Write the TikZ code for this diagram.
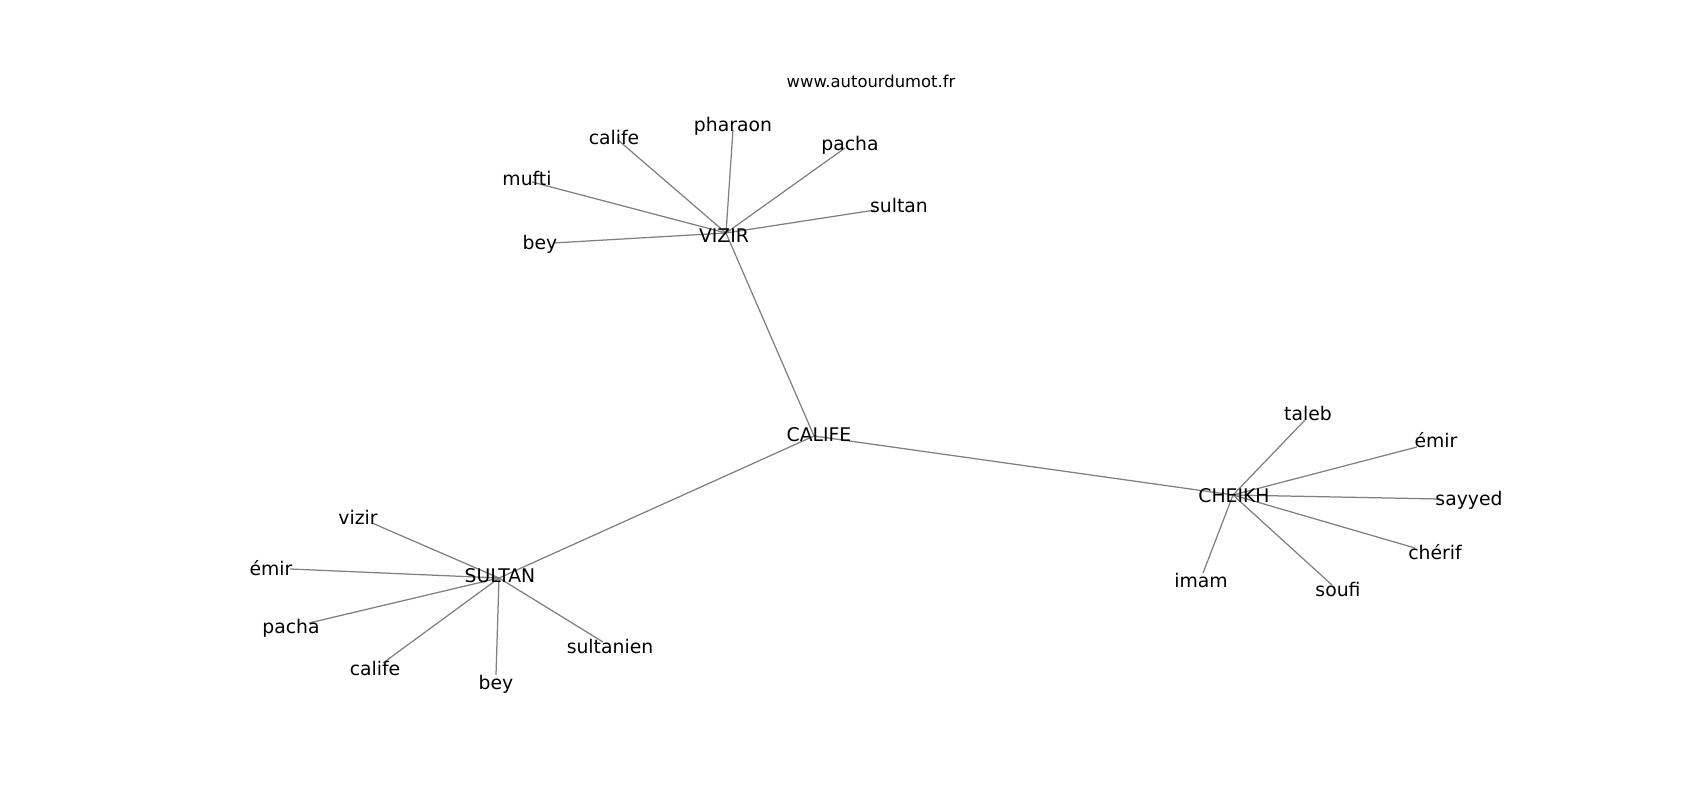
\documentclass[tikz,border=0pt]{standalone}
\usepackage{fontspec}
\setmainfont{DejaVu Sans}
\definecolor{edgegray}{RGB}{128,128,128}
\tikzset{
  lbl/.style={anchor=base,inner sep=0pt,outer sep=0pt,font=\fontsize{18.8}{22}\selectfont},
  small/.style={anchor=base,inner sep=0pt,outer sep=0pt,font=\fontsize{16.4}{19}\selectfont},
  edge/.style={draw=edgegray,line width=1.25pt}
}
\begin{document}
\begin{tikzpicture}[x=1pt,y=-1pt]
\useasboundingbox (0,0) rectangle (1700,800);
% graph node positions
\coordinate (califeC) at (814,436);
\coordinate (vizirC) at (726,233);
\coordinate (v1) at (618,140);
\coordinate (v2) at (733,130);
\coordinate (v3) at (845,148);
\coordinate (v4) at (532,182);
\coordinate (v5) at (875,210);
\coordinate (v6) at (553,243);
\coordinate (sultanC) at (499,578);
\coordinate (s1) at (372,523);
\coordinate (s2) at (290,569);
\coordinate (s3) at (309,623);
\coordinate (s4) at (383,663);
\coordinate (s5) at (496,675);
\coordinate (s6) at (603,642);
\coordinate (cheikhC) at (1233,495);
\coordinate (c1) at (1305,420);
\coordinate (c2) at (1417,447);
\coordinate (c3) at (1440,499);
\coordinate (c4) at (1415,548);
\coordinate (c5) at (1332,585);
\coordinate (c6) at (1203,573);
% edges
\draw[edge] (califeC) -- (vizirC);
\draw[edge] (califeC) -- (sultanC);
\draw[edge] (califeC) -- (cheikhC);
\foreach \n in {v1,v2,v3,v4,v5,v6} \draw[edge] (vizirC) -- (\n);
\foreach \n in {s1,s2,s3,s4,s5,s6} \draw[edge] (sultanC) -- (\n);
\foreach \n in {c1,c2,c3,c4,c5,c6} \draw[edge] (cheikhC) -- (\n);
% labels
\node[small] (www) at (871,88) {www.autourdumot.fr};
\node[lbl] (lcalife) at (819,441) {CALIFE};
\node[lbl] (lvizir) at (724,242) {VIZIR};
\node[lbl] (lv1) at (614,144) {calife};
\node[lbl] (lv2) at (733,131) {pharaon};
\node[lbl] (lv3) at (850,150) {pacha};
\node[lbl] (lv4) at (527,185) {mufti};
\node[lbl] (lv5) at (899,212) {sultan};
\node[lbl] (lv6) at (540,249) {bey};
\node[lbl] (lsultan) at (500,582) {SULTAN};
\node[lbl] (ls1) at (358,524) {vizir};
\node[lbl] (ls2) at (271,575) {émir};
\node[lbl] (ls3) at (291,633) {pacha};
\node[lbl] (ls4) at (375,675) {calife};
\node[lbl] (ls5) at (496,689) {bey};
\node[lbl] (ls6) at (610,653) {sultanien};
\node[lbl] (lcheikh) at (1234,502) {CHEIKH};
\node[lbl] (lc1) at (1308,420) {taleb};
\node[lbl] (lc2) at (1436,447) {émir};
\node[lbl] (lc3) at (1469,505) {sayyed};
\node[lbl] (lc4) at (1435,559) {chérif};
\node[lbl] (lc5) at (1338,596) {soufi};
\node[lbl] (lc6) at (1201,587) {imam};
\end{tikzpicture}
\end{document}
